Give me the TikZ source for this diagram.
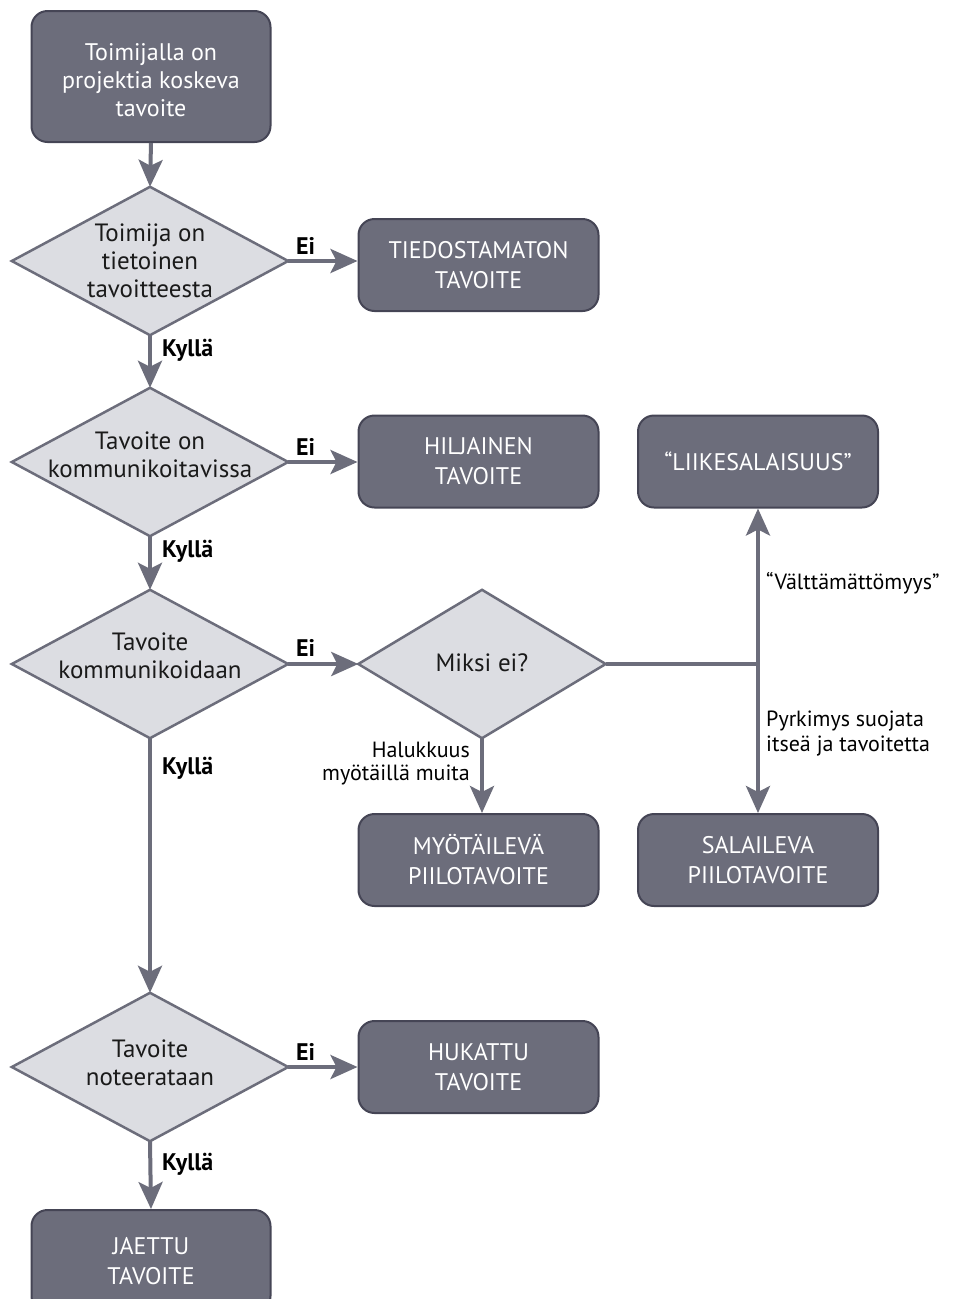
\documentclass[tikz,border=0pt]{standalone}
\usepackage{fontspec}
\setmainfont{PT Sans}
\usetikzlibrary{arrows.meta}
\definecolor{boxfill}{HTML}{6C6D7B}
\definecolor{boxedge}{HTML}{454555}
\definecolor{dfill}{HTML}{DCDDE2}
\definecolor{lncol}{HTML}{6C6D7B}
\definecolor{txt}{HTML}{1A1A1A}
\tikzset{
  boxnode/.style={rectangle, rounded corners=16pt, fill=boxfill, draw=boxedge, line width=2pt,
    minimum width=240pt, minimum height=92pt, inner sep=0pt, text=white, align=center,
    font=\fontsize{24}{30}\selectfont},
  dnode/.style={rectangle, minimum width=276pt, minimum height=148pt, inner sep=0pt},
  dtext/.style={inner sep=0pt, anchor=base, text=txt, align=center, font=\fontsize{25}{28}\selectfont},
  wtext/.style={inner sep=0pt, anchor=base, text=white, align=center, font=\fontsize{24}{28}\selectfont},
  dshape/.style={fill=dfill, draw=lncol, line width=2.5pt, line join=miter},
  conn/.style={draw=lncol, line width=4pt},
  arr/.style={conn, -{Stealth[length=27pt,width=24pt,inset=6pt]}},
  yes/.style={font=\bfseries\fontsize{24}{28}\selectfont, text=black, anchor=base west, inner sep=0pt},
  lbl/.style={font=\fontsize{22}{25}\selectfont, text=black, inner sep=0pt}
}
\begin{document}
\begin{tikzpicture}[x=1pt,y=-1pt]
\useasboundingbox (0,0) rectangle (960,1299);
\clip (0,0) rectangle (960,1299);

% nodes
\node[boxnode, minimum width=239pt, minimum height=131pt] (top) at (151,76.5) {};
\node[wtext] (tt) at (151,116) {Toimijalla on\\projektia koskeva\\tavoite};

\node[dnode] (d1) at (150,261) {};
\draw[dshape] (d1.north) -- (d1.east) -- (d1.south) -- (d1.west) -- cycle;
\node[dtext] (t1) at (150,297) {Toimija on\\tietoinen\\tavoitteesta};

\node[boxnode] (b1) at (478.5,265) {TIEDOSTAMATON\\TAVOITE};

\node[dnode] (d2) at (150,462) {};
\draw[dshape] (d2.north) -- (d2.east) -- (d2.south) -- (d2.west) -- cycle;
\node[dtext] (t2) at (150,477) {Tavoite on\\kommunikoitavissa};

\node[boxnode] (b2) at (478.5,461.5) {HILJAINEN\\TAVOITE};
\node[boxnode] (b3) at (758,461.5) {“LIIKESALAISUUS”};

\node[dnode] (d3) at (150,664) {};
\draw[dshape] (d3.north) -- (d3.east) -- (d3.south) -- (d3.west) -- cycle;
\node[dtext] (t3) at (150,678) {Tavoite\\kommunikoidaan};

\node[dnode, minimum width=247pt] (d5) at (482,664) {};
\draw[dshape] (d5.north) -- (d5.east) -- (d5.south) -- (d5.west) -- cycle;
\node[dtext] (t5) at (482,671) {Miksi ei?};

\node[boxnode] (b4) at (478.5,860) {MYÖTÄILEVÄ\\PIILOTAVOITE};
\node[boxnode] (b5) at (758,860) {SALAILEVA\\PIILOTAVOITE};

\node[dnode] (d4) at (150,1067) {};
\draw[dshape] (d4.north) -- (d4.east) -- (d4.south) -- (d4.west) -- cycle;
\node[dtext] (t4) at (150,1085) {Tavoite\\noteerataan};

\node[boxnode] (b6) at (478.5,1067) {HUKATTU\\TAVOITE};

\node[boxnode, minimum width=239pt, minimum height=102pt] (b7) at (151,1261) {JAETTU\\TAVOITE};

\coordinate (j) at (758,664);

% connectors
\draw[arr] (top.south) -- (d1.north);
\draw[arr] (d1.east) -- (b1.west |- d1.east);
\draw[arr] (d1.south) -- (d2.north);
\draw[arr] (d2.east) -- (b2.west |- d2.east);
\draw[arr] (d2.south) -- (d3.north);
\draw[arr] (d3.east) -- (d5.west);
\draw[arr] (d3.south) -- (d4.north);
\draw[arr] (d4.east) -- (b6.west |- d4.east);
\draw[arr] (d4.south) -- (b7.north);
\draw[arr] (d5.south) -- (d5.south |- b4.north);
\draw[conn] (d5.east) -- (j);
\draw[arr] (j) -- (b3.south);
\draw[arr] (j) -- (b5.north);

% labels
\node[yes] (e1) at (296,254) {Ei};
\node[yes] (e2) at (296,455) {Ei};
\node[yes] (e3) at (296,656) {Ei};
\node[yes] (e4) at (296,1060) {Ei};
\node[yes] (k1) at (162,356) {Kyllä};
\node[yes] (k2) at (162,557) {Kyllä};
\node[yes] (k3) at (162,774) {Kyllä};
\node[yes] (k4) at (162,1170) {Kyllä};
\node[lbl, anchor=base west] (v) at (766,589) {“Välttämättömyys”};
\node[lbl, anchor=base west, align=left] (p) at (766,751) {Pyrkimys suojata\\itseä ja tavoitetta};
\node[lbl, anchor=base east, align=right, font=\fontsize{22}{23}\selectfont] (h) at (470,780) {Halukkuus\\myötäillä muita};
\end{tikzpicture}
\end{document}
